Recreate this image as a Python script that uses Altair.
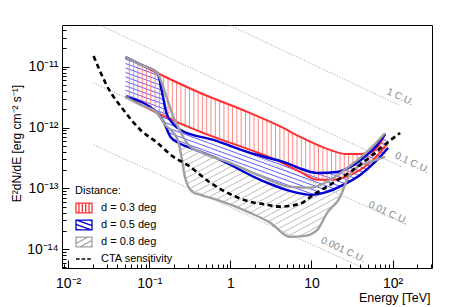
import json
import math
import pandas as pd
import altair as alt

# ---------------- values ----------------
x_tick_values = [0.01, 0.1, 1, 10, 100]
x_tick_labels = ["10⁻²", "10⁻¹", "1", "10", "10²"]
y_tick_values = [1e-14, 1e-13, 1e-12, 1e-11]
y_tick_labels = ["10⁻¹⁴", "10⁻¹³", "10⁻¹²", "10⁻¹¹"]

legend_labels = ["d = 0.3 deg", "d = 0.5 deg", "d = 0.8 deg", "CTA sensitivity"]

# CTA sensitivity (dashed black)
cta_E = [0.0206, 0.0306, 0.0482, 0.078, 0.126, 0.199, 0.296, 0.567, 1.0, 1.76,
         2.55, 4.12, 7.27, 10.5, 18.5, 30.0, 52.8, 85.0, 124.0]
cta_F = [1.50e-11, 4.64e-12, 1.94e-12, 9.12e-13, 5.58e-13, 3.29e-13, 2.43e-13, 1.23e-13,
         8.0e-14, 6.0e-14, 5.5e-14, 5.0e-14, 5.6e-14, 7.8e-14, 1.23e-13, 1.86e-13,
         3.29e-13, 5.58e-13, 8.14e-13]

# Crab-unit reference lines
cu_names = ["1 C.U.", "0.1 C.U.", "0.01 C.U.", "0.001 C.U."]
cu_start_E = [0.0206, 0.0206, 0.0206, 0.0206]
cu_start_F = [5.4e-10, 5.4e-11, 5.4e-12, 5.2e-13]
cu_end_E = [124.0, 128.0, 151.0, 151.0]
cu_end_F = [2.3e-12, 2.26e-13, 2.5e-14, 2.3e-15]
cu_label_E = [124.0, 174.0, 88.0, 24.6]
cu_label_F = [3.18e-12, 2.62e-13, 3.95e-14, 9.75e-15]

# d = 0.3 deg band (red)
red_up_E = [0.051, 0.085, 0.126, 0.427, 1.76, 4.49, 7.27, 11.8, 18.5, 26.0, 39.8, 55.9, 68.2, 80.9]
red_up_F = [1.44e-11, 1.03e-11, 7.88e-12, 3.70e-12, 1.73e-12, 9.84e-13, 7.00e-13, 5.18e-13,
            4.12e-13, 3.68e-13, 3.68e-13, 3.97e-13, 5.18e-13, 7.84e-13]
red_lo_E = [0.051, 0.126, 0.427, 1.76, 4.12, 7.27, 11.8, 17.0, 26.0, 39.8, 60.9, 88.0]
red_lo_F = [3.18e-12, 1.73e-12, 8.46e-13, 4.28e-13, 2.72e-13, 1.86e-13, 1.38e-13, 1.38e-13,
            1.54e-13, 2.01e-13, 3.16e-13, 5.58e-13]

# d = 0.5 deg band (blue)
blue_up_E = [0.051, 0.085, 0.126, 0.146, 0.163, 0.193, 0.243, 0.618, 1.76, 4.49, 11.8, 20.7,
             30.0, 43.3, 64.5, 80.9]
blue_up_F = [1.44e-11, 1.03e-11, 7.88e-12, 3.43e-12, 1.73e-12, 1.19e-12, 9.12e-13, 6.25e-13,
             3.82e-13, 2.72e-13, 1.79e-13, 1.86e-13, 2.25e-13, 3.16e-13, 5.18e-13, 7.84e-13]
blue_lo_E = [0.051, 0.126, 0.150, 0.183, 0.243, 0.322, 0.753, 2.34, 5.96, 9.66, 15.6, 24.6,
             39.8, 60.9, 88.0]
blue_lo_F = [3.18e-12, 1.73e-12, 1.24e-12, 7.00e-13, 5.37e-13, 4.62e-13, 2.93e-13, 1.38e-13,
             8.75e-14, 7.82e-14, 8.75e-14, 1.14e-13, 1.66e-13, 2.72e-13, 4.62e-13]

# d = 0.8 deg band (grey)
gray_up_E = [0.051, 0.085, 0.126, 0.150, 0.173, 0.199, 0.243, 0.304, 0.427, 1.0, 2.34, 5.47,
             9.66, 17.0, 27.5, 39.8, 55.9, 80.9]
gray_up_F = [1.44e-11, 1.03e-11, 7.88e-12, 4.47e-12, 2.53e-12, 1.49e-12, 8.46e-13, 5.18e-13,
             3.97e-13, 2.62e-13, 1.60e-13, 1.06e-13, 1.02e-13, 1.38e-13, 2.17e-13, 3.16e-13,
             4.80e-13, 8.14e-13]
gray_lo_E = [0.051, 0.078, 0.126, 0.158, 0.199, 0.229, 0.257, 0.272, 0.296, 0.341, 0.427,
             0.692, 1.76, 3.11, 5.47, 8.38, 11.8, 15.6, 22.6, 27.5, 36.6, 52.8, 80.9]
gray_lo_F = [3.18e-12, 2.35e-12, 1.73e-12, 1.10e-12, 8.14e-13, 5.79e-13, 2.62e-13, 1.66e-13,
             1.14e-13, 8.75e-14, 7.82e-14, 6.47e-14, 3.95e-14, 2.71e-14, 1.59e-14, 1.65e-14,
             2.07e-14, 3.95e-14, 7.23e-14, 1.38e-13, 2.25e-13, 2.72e-13, 3.29e-13]

# ---------------- layout / style ----------------
W, H = 370, 243
XDOM = [0.0084, 306.0]
YDOM = [4.9e-15, 4.85e-11]
FONT = "Liberation Sans"
RED, BLUE, GRAY = "#ff3030", "#0000d0", "#a0a0a0"
RED_H, BLUE_H, GRAY_H = "#ff7a7a", "#3535ff", "#ababab"

LX = W / (math.log10(XDOM[1]) - math.log10(XDOM[0]))
LY = H / (math.log10(YDOM[1]) - math.log10(YDOM[0]))


def px(E, F):
    return (math.log10(E) * LX, -math.log10(F) * LY)


def band_polygon(upE, upF, loE, loF):
    pts = [px(e, f) for e, f in zip(upE, upF)]
    pts += [px(e, f) for e, f in zip(loE[::-1], loF[::-1])]
    return pts


def cuts(pts, ca, sa, t):
    xs = []
    n = len(pts)
    for i in range(n):
        u1, v1 = pts[i]
        u2, v2 = pts[(i + 1) % n]
        t1 = -u1 * sa + v1 * ca
        t2 = -u2 * sa + v2 * ca
        if (t1 <= t) != (t2 <= t):
            a = (t - t1) / (t2 - t1)
            s1 = u1 * ca + v1 * sa
            s2 = u2 * ca + v2 * sa
            xs.append(s1 + a * (s2 - s1))
    xs.sort()
    return [(xs[i], xs[i + 1]) for i in range(0, len(xs) - 1, 2)]


def subtract(ivs, holes):
    out = []
    for a, b in ivs:
        pieces = [(a, b)]
        for h0, h1 in holes:
            new = []
            for p0, p1 in pieces:
                if h1 <= p0 or h0 >= p1:
                    new.append((p0, p1))
                else:
                    if h0 > p0:
                        new.append((p0, h0))
                    if h1 < p1:
                        new.append((h1, p1))
            pieces = new
        out += pieces
    return out


def hatch(pts, angle, spacing, holes=None, minlen=0.3):
    th = math.radians(angle)
    ca, sa = math.cos(th), math.sin(th)
    ts = [-u * sa + v * ca for u, v in pts]
    t = math.floor(min(ts) / spacing) * spacing + spacing / 2
    segs = []
    while t < max(ts):
        ivs = cuts(pts, ca, sa, t)
        if holes is not None:
            ivs = subtract(ivs, cuts(holes, ca, sa, t))
        for s0, s1 in ivs:
            if s1 - s0 > minlen:
                segs.append((s0 * ca - t * sa, s0 * sa + t * ca,
                             s1 * ca - t * sa, s1 * sa + t * ca))
        t += spacing
    return segs


def segs_df(segs):
    return pd.DataFrame([
        {"E": 10 ** (u0 / LX), "F": 10 ** (-v0 / LY),
         "E2": 10 ** (u1 / LX), "F2": 10 ** (-v1 / LY)}
        for u0, v0, u1, v1 in segs])


def outline_df(upE, upF, loE, loF):
    rows = [{"E": e, "F": f, "edge": "upper", "i": k} for k, (e, f) in enumerate(zip(upE, upF))]
    rows += [{"E": e, "F": f, "edge": "lower", "i": k} for k, (e, f) in enumerate(zip(loE, loF))]
    return pd.DataFrame(rows)


def glyph(angle, spacing):
    box = [(-1, -0.62), (1, -0.62), (1, 0.62), (-1, 0.62)]
    p = "M-1,-0.62H1V0.62H-1Z"
    for u0, v0, u1, v1 in hatch(box, angle, spacing, minlen=0.05):
        p += f"M{u0:.3f},{v0:.3f}L{u1:.3f},{v1:.3f}"
    return p


red_poly = band_polygon(red_up_E, red_up_F, red_lo_E, red_lo_F)
blue_poly = band_polygon(blue_up_E, blue_up_F, blue_lo_E, blue_lo_F)
gray_poly = band_polygon(gray_up_E, gray_up_F, gray_lo_E, gray_lo_F)

red_hatch = segs_df(hatch(red_poly, 90, 4.3))
blue_hatch = segs_df(hatch(blue_poly, 20, 4.2))
gray_hatch = segs_df(hatch(gray_poly, -28, 5.5, holes=blue_poly))

legend_paths = [glyph(90, 0.42), glyph(20, 0.55), glyph(-28, 0.6),
                "M-1,0H-0.55M-0.3,0H0.15M0.4,0H0.85"]
legend_colors = [RED, BLUE, GRAY, "black"]

x_minor = [k * 10.0 ** n for n in range(-3, 3) for k in range(1, 10)
           if XDOM[0] <= k * 10.0 ** n <= XDOM[1]]
y_minor = [k * 10.0 ** n for n in range(-15, -10) for k in range(1, 10)
           if YDOM[0] <= k * 10.0 ** n <= YDOM[1]]

x_expr = f"{json.dumps(x_tick_labels)}[indexof({json.dumps(x_tick_values)}, datum.value)]"
y_expr = f"{json.dumps(y_tick_labels)}[indexof({json.dumps(y_tick_values)}, datum.value)]"

xs = alt.Scale(type="log", domain=XDOM, nice=False)
ys = alt.Scale(type="log", domain=YDOM, nice=False)

major_x = alt.Axis(values=x_tick_values, labelExpr=x_expr, orient="bottom", offset=-8,
                   tickSize=8, tickColor="black", tickWidth=1, domain=False, grid=False,
                   labelFont=FONT, labelFontSize=14, labelColor="black", labelPadding=8,
                   labelFlush=False, labelOverlap=False,
                   title="Energy [TeV]", titleFont=FONT, titleFontSize=12.5,
                   titleFontWeight="normal", titleColor="black", titleX=368, titleY=41,
                   titleAlign="right", titleAnchor="end", titleBaseline="alphabetic")
major_y = alt.Axis(values=y_tick_values, labelExpr=y_expr, orient="left", offset=-7,
                   tickSize=7, tickColor="black", tickWidth=1, domain=False, grid=False,
                   labelFont=FONT, labelFontSize=14, labelColor="black", labelPadding=4,
                   labelFlush=False, labelOverlap=False,
                   title="E²dN/dE [erg cm⁻² s⁻¹]", titleFont=FONT, titleFontSize=12,
                   titleFontWeight="normal", titleColor="black", titleX=-53, titleY=118,
                   titleAngle=270, titleAlign="center", titleBaseline="middle")
minor_x = alt.Axis(values=x_minor, orient="bottom", offset=-4, tickSize=4, tickColor="black",
                   tickWidth=1, domain=False, grid=False, labels=False, title=None)
minor_y = alt.Axis(values=y_minor, orient="left", offset=-4, tickSize=4, tickColor="black",
                   tickWidth=1, domain=False, grid=False, labels=False, title=None)

# Crab unit lines
cu_rows = []
for name, e0, f0, e1, f1 in zip(cu_names, cu_start_E, cu_start_F, cu_end_E, cu_end_F):
    cu_rows.append({"cu": name, "E": e0, "F": f0, "i": 0})
    cu_rows.append({"cu": name, "E": e1, "F": f1, "i": 1})
cu_df = pd.DataFrame(cu_rows)
cu_lines = alt.Chart(cu_df).mark_line(clip=True, color="#9c9c9c", strokeWidth=0.9,
                                      strokeDash=[1.2, 1.6]).encode(
    x=alt.X("E:Q", scale=xs, axis=minor_x),
    y=alt.Y("F:Q", scale=ys, axis=minor_y),
    detail="cu:N", order="i:Q")

cu_lab_df = pd.DataFrame({"E": cu_label_E, "F": cu_label_F, "label": cu_names})
cu_text = alt.Chart(cu_lab_df).mark_text(angle=25, fontSize=10, font=FONT,
                                         color="#8a8a8a").encode(
    x=alt.X("E:Q", scale=xs, axis=None),
    y=alt.Y("F:Q", scale=ys, axis=None),
    text="label:N")


def hatch_layer(df, color, width):
    return alt.Chart(df).mark_rule(color=color, strokeWidth=width, clip=True).encode(
        x=alt.X("E:Q", scale=xs, axis=None),
        y=alt.Y("F:Q", scale=ys, axis=None),
        x2="E2:Q", y2="F2:Q")


def outline_layer(df, color, width):
    return alt.Chart(df).mark_line(color=color, strokeWidth=width, interpolate="monotone",
                                   clip=True).encode(
        x=alt.X("E:Q", scale=xs, axis=None),
        y=alt.Y("F:Q", scale=ys, axis=None),
        detail="edge:N", order="i:Q")


cta_df = pd.DataFrame({"E": cta_E, "F": cta_F})
cta_line = alt.Chart(cta_df).mark_line(color="black", strokeWidth=2.6, strokeDash=[5, 3.5],
                                       interpolate="monotone", clip=True).encode(
    x=alt.X("E:Q", scale=xs, axis=major_x),
    y=alt.Y("F:Q", scale=ys, axis=major_y))

leg = alt.Legend(title="Distance:", orient="none", legendX=13, legendY=160, padding=0,
                 symbolSize=256, symbolStrokeWidth=1.3, labelFont=FONT, labelFontSize=11,
                 labelColor="black", titleFont=FONT, titleFontSize=11, titleFontWeight="normal",
                 titleColor="black", labelOffset=8, rowPadding=0, titlePadding=3)
leg_df = pd.DataFrame({"series": legend_labels})
legend_layer = alt.Chart(leg_df).mark_point(filled=False, opacity=1).encode(
    color=alt.Color("series:N", scale=alt.Scale(domain=legend_labels, range=legend_colors),
                    legend=leg),
    shape=alt.Shape("series:N", scale=alt.Scale(domain=legend_labels, range=legend_paths),
                    legend=leg),
).transform_filter("false")

chart = alt.layer(
    cu_lines,
    cu_text,
    hatch_layer(gray_hatch, GRAY_H, 0.8),
    hatch_layer(blue_hatch, BLUE_H, 0.8),
    hatch_layer(red_hatch, RED_H, 0.9),
    outline_layer(outline_df(red_up_E, red_up_F, red_lo_E, red_lo_F), RED, 2),
    outline_layer(outline_df(blue_up_E, blue_up_F, blue_lo_E, blue_lo_F), BLUE, 2.4),
    outline_layer(outline_df(gray_up_E, gray_up_F, gray_lo_E, gray_lo_F), GRAY, 2.4),
    cta_line,
    legend_layer,
).resolve_axis(x="independent", y="independent").properties(
    width=W, height=H,
    autosize=alt.AutoSizeParams(type="none"),
    padding={"left": 54, "top": 17, "right": 20, "bottom": 37},
).configure(font=FONT).configure_view(stroke="black", strokeWidth=1)

chart.save("out.html", embed_options={"renderer": "svg", "actions": False})
